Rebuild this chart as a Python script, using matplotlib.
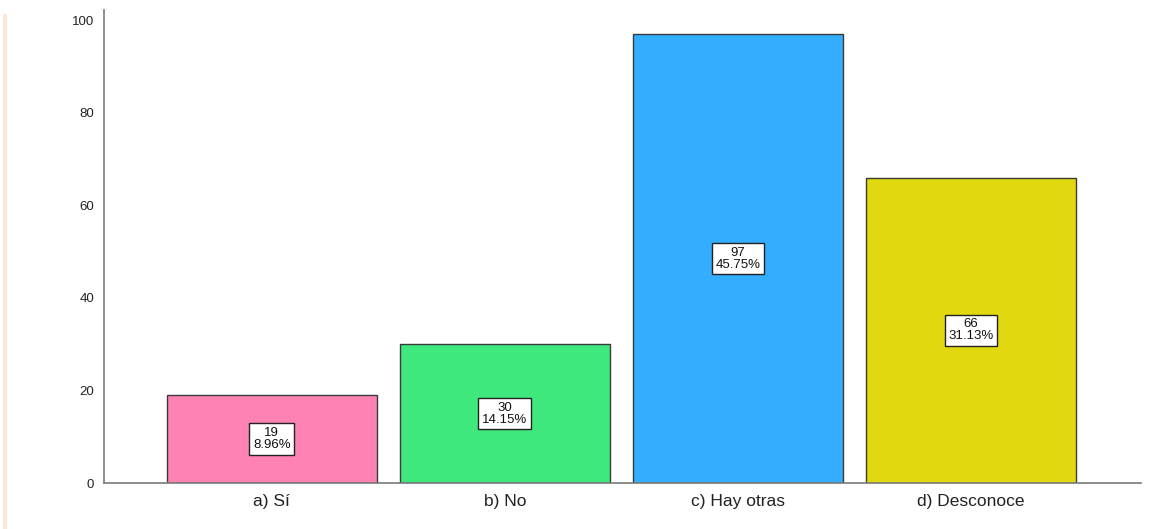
import matplotlib
matplotlib.use("Agg")
import matplotlib.pyplot as plt
from matplotlib.patches import Rectangle

categories = ["a) Sí", "b) No", "c) Hay otras", "d) Desconoce"]
counts = [19, 30, 97, 66]
percents = ["8.96%", "14.15%", "45.75%", "31.13%"]
colors = ["#FF82B4", "#3EE87C", "#33ADFF", "#E2D810"]

plt.rcParams["font.family"] = ["Liberation Sans", "DejaVu Sans"]

fig = plt.figure(figsize=(11.52, 5.29), dpi=100)
ax = fig.add_axes([104 / 1152, 46 / 529, 1037 / 1152, 473 / 529])

x = range(len(categories))
ax.bar(x, counts, width=0.9, color=colors, edgecolor="#3a3a3a", linewidth=1.0)

for xi, c, p in zip(x, counts, percents):
    ax.text(xi, c / 2, f"{c}\n{p}", ha="center", va="center", fontsize=9.5,
            color="#111111", linespacing=1.0,
            bbox=dict(boxstyle="square,pad=0.28", fc="white", ec="#222222", lw=1.0))

ax.set_xlim(-0.72, 3.73)
ax.set_ylim(0, 102.2)
ax.set_yticks([0, 20, 40, 60, 80, 100])
ax.set_xticks(list(x))
ax.set_xticklabels(categories, fontsize=12.5, color="#222222")
ax.tick_params(axis="y", length=0, labelsize=9.5, colors="#222222", pad=7)
ax.tick_params(axis="x", length=0, pad=8)

for side in ("top", "right"):
    ax.spines[side].set_visible(False)
for side in ("left", "bottom"):
    ax.spines[side].set_color("#7a7a7a")
    ax.spines[side].set_linewidth(1.2)

# faint orange edge at left of the original screenshot
fig.patches.append(Rectangle((3 / 1152, 0), 4 / 1152, 515 / 529, transform=fig.transFigure,
                             facecolor="#fde6d4", edgecolor="none"))

fig.savefig("out.png", dpi=100, facecolor="white")
